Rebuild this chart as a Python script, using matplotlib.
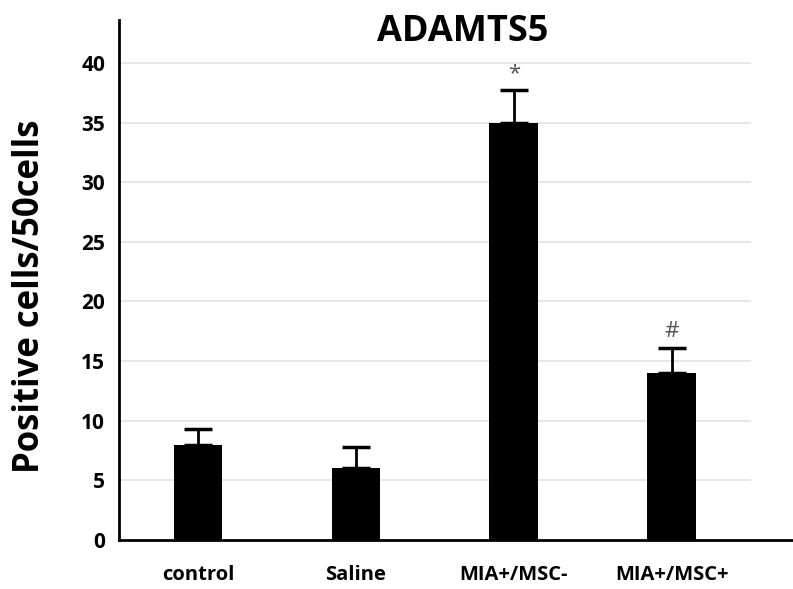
import matplotlib.pyplot as plt

# data
groups = ['control', 'Saline', 'MIA+/MSC-', 'MIA+/MSC+']
means = [8.0, 6.0, 35.0, 14.0]
errs = [1.3, 1.8, 2.7, 2.1]
marks = ['', '', '*', '#']
yticks = [0, 5, 10, 15, 20, 25, 30, 35, 40]

plt.rcParams['font.family'] = ['Open Sans', 'DejaVu Sans']

fig = plt.figure(figsize=(7.93, 5.89), dpi=100)
ax = fig.add_axes([119/793, 49/589, 674/793, 520/589])

x = range(len(groups))
ax.bar(x, means, width=0.31, color='black', zorder=3)
# error bars sit behind the bars so the lower cap is hidden
ax.errorbar(x, means, yerr=[[0]*len(errs), errs], fmt='none', ecolor='black',
            elinewidth=2, capsize=10, capthick=2.5, zorder=2)

# significance marks above the error bars
for i, m in enumerate(marks):
    if m:
        ax.text(i, means[i] + errs[i] + 0.5, m, ha='center', va='bottom',
                fontsize=16, color='#555555')

# gridlines only across the category area
ax.hlines(yticks[1:], -0.5, 3.5, color='#e3e3e3', lw=1.2, zorder=1)

ax.set_xlim(-0.5, 3.766)
ax.set_ylim(0, 43.6)
ax.set_yticks(yticks)
ax.set_xticks(list(x))
ax.set_xticklabels(groups)
for s in ['top', 'right']:
    ax.spines[s].set_visible(False)
ax.spines['left'].set_linewidth(2)
ax.spines['bottom'].set_linewidth(2)
ax.tick_params(axis='y', length=0, pad=10, labelsize=15)
ax.tick_params(axis='x', length=0, pad=18, labelsize=14.5)
for lab in ax.get_xticklabels() + ax.get_yticklabels():
    lab.set_fontweight('bold')

fig.text(0.584, 1 - 41/589, 'ADAMTS5', ha='center', va='baseline',
         fontsize=26, fontweight='bold')
fig.text(0.038, 1 - 296/589, 'Positive cells/50cells', ha='center', va='center',
         rotation=90, fontsize=25, fontweight='bold')

fig.savefig('out.png', dpi=100)
